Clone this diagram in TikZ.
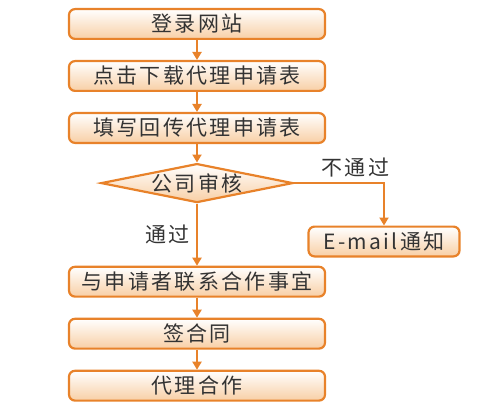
\documentclass[tikz,border=0pt]{standalone}
\usepackage{fontspec}
\setmainfont{Noto Sans CJK SC}[LetterSpace=11]
\usetikzlibrary{arrows.meta,positioning,shapes.geometric}
\definecolor{flowOrange}{HTML}{E8822A}
\definecolor{flowPeach}{HTML}{F8CFA5}
\definecolor{flowText}{HTML}{333333}
\begin{document}
\begin{tikzpicture}[font=\fontsize{21pt}{24pt}\selectfont,text=flowText,
  box/.style={draw=flowOrange,top color=white,bottom color=flowPeach,rounded corners=6pt,line width=2.2pt,
    minimum height=29.8pt,minimum width=256pt,inner sep=0pt},
  check/.style={diamond,draw=flowOrange,top color=white,bottom color=flowPeach,line width=2.2pt,
    aspect=4.7,minimum width=192pt,minimum height=39pt,inner sep=0pt},
  arr/.style={-{Triangle[length=8pt,width=9pt]},line width=2pt,flowOrange}]
\useasboundingbox (0,0) rectangle (500pt,-409pt);
\node[box] (login) at (197pt,-24pt) {登录网站};
\node[box,below=20pt of login] (down) {点击下载代理申请表};
\node[box,below=20pt of down] (fill) {填写回传代理申请表};
\node[check,below=18.5pt of fill] (audit) {公司审核};
\node[box,below=62pt of audit] (contact) {与申请者联系合作事宜};
\node[box,below=20pt of contact] (sign) {签合同};
\node[box,below=20pt of sign] (coop) {代理合作};
\node[box,minimum width=151pt] (mail) at (384pt,-241.5pt) {E-mail通知};
\draw[arr] (login) -- (down);
\draw[arr] (down) -- (fill);
\draw[arr] (fill) -- (audit);
\draw[arr] (audit) -- node[left=3pt,text=flowText]{通过} (contact);
\draw[arr] (audit.east) -| node[pos=0.34,above=2pt,text=flowText]{不通过} (mail.north);
\draw[arr] (contact) -- (sign);
\draw[arr] (sign) -- (coop);
\end{tikzpicture}
\end{document}
